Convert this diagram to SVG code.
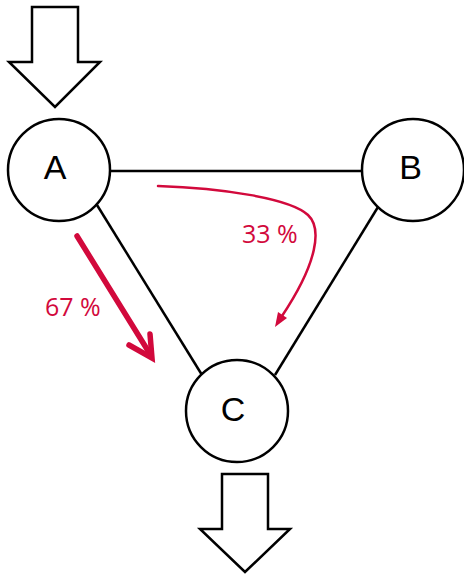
<svg xmlns="http://www.w3.org/2000/svg" width="464" height="576" viewBox="0 0 464 576">
<style>
.n{fill:#fff;stroke:#000;stroke-width:2.5}
.lbl{font-family:"Liberation Sans",Arial,sans-serif;font-size:34px;fill:#000;text-anchor:middle}
.e{stroke:#000;stroke-width:2.5;fill:none}
.io{fill:#fff;stroke:#000;stroke-width:2.5;stroke-linejoin:miter}
.pct{font-family:"Open Sans","Noto Sans",sans-serif;font-size:25px;fill:#D2093C}
.r{stroke:#D2093C;fill:none;stroke-linecap:round}
</style>
<rect width="464" height="576" fill="#fff"/>
<g id="input-arrow"><polygon class="io" points="32,7 78,7 78,62 100,62 55,107 9,62 32,62"/></g>
<g id="output-arrow"><polygon class="io" points="222,474 268,474 268,529 290,529 245,572 200,529 222,529"/></g>
<g id="connectors">
<line class="e" x1="110" y1="171" x2="363" y2="171"/>
<line class="e" x1="97" y1="205" x2="202" y2="375"/>
<line class="e" x1="378" y1="207" x2="275" y2="375"/>
</g>
<g id="node-A"><circle class="n" cx="59" cy="170" r="51"/><text class="lbl" x="55" y="179">A</text></g>
<g id="node-B"><circle class="n" cx="413" cy="170" r="51"/><text class="lbl" x="410.5" y="179">B</text></g>
<g id="node-C"><circle class="n" cx="237" cy="411" r="51"/><text class="lbl" x="233" y="421">C</text></g>
<g id="flow-67">
<line class="r" x1="77" y1="236" x2="150" y2="354" stroke-width="5.5"/>
<polyline class="r" points="129,345 152,358 150,334" stroke-width="5.5" stroke-linejoin="miter"/>
<text class="pct" x="45" y="316">67 %</text>
</g>
<g id="flow-33">
<path class="r" stroke-width="2.5" d="M158,186 C220,188 290,198 308,215 C322,228 318,262 282,316"/>
<polygon fill="#D2093C" points="275,327 287,318 278,312"/>
<text class="pct" x="242" y="243">33 %</text>
</g>
</svg>
